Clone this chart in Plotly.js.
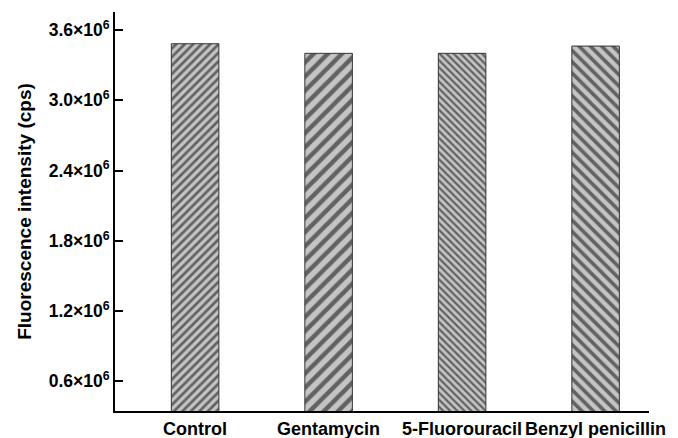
<!DOCTYPE html>
<html>
<head>
<meta charset="utf-8">
<script src="https://cdn.plot.ly/plotly-3.0.1.min.js"></script>
<style>html,body{margin:0;padding:0;background:#fff;}#chart{width:678px;height:438px;}</style>
</head>
<body>
<div id="chart"></div>
<script>
const categories = ["Control", "Gentamycin", "5-Fluorouracil", "Benzyl penicillin"];
const intensity = [3.483e6, 3.401e6, 3.401e6, 3.463e6];
const tickValues = [0.6e6, 1.2e6, 1.8e6, 2.4e6, 3.0e6, 3.6e6];
const tickLabels = ["0.6×10<sup>6</sup>", "1.2×10<sup>6</sup>", "1.8×10<sup>6</sup>", "2.4×10<sup>6</sup>", "3.0×10<sup>6</sup>", "3.6×10<sup>6</sup>"];
const patternShapes = ["/", "/", "\\", "\\"];
const patternSizes = [6, 10, 5, 8];

const fam = "Liberation Sans, Arial, sans-serif";

const trace = {
  type: "bar",
  x: categories,
  y: intensity,
  width: 0.356,
  marker: {
    color: "#c0c0c0",
    line: {color: "#333", width: 1},
    pattern: {shape: patternShapes, size: patternSizes, solidity: 0.45, fgcolor: "#000", bgcolor: "#c4c4c4", fillmode: "overlay"}
  },
  hoverinfo: "none"
};

const layout = {
  width: 678, height: 438,
  margin: {l: 115, r: 29, t: 12, b: 27},
  paper_bgcolor: "#fff", plot_bgcolor: "#fff",
  showlegend: false,
  font: {family: fam, color: "#000"},
  xaxis: {
    type: "category",
    range: [-0.6, 3.4],
    automargin: false,
    tickangle: 0,
    showline: true, linecolor: "#000", linewidth: 2,
    ticks: "", showgrid: false, zeroline: false,
    tickfont: {family: fam, size: 18, color: "#000", weight: "bold"}
  },
  yaxis: {
    range: [0.346e6, 3.754e6],
    automargin: false,
    showline: true, linecolor: "#000", linewidth: 2,
    ticks: "inside", ticklen: 8, tickwidth: 2, tickcolor: "#000",
    tickvals: tickValues, ticktext: tickLabels,
    showgrid: false, zeroline: false,
    tickfont: {family: fam, size: 17.5, color: "#000", weight: "bold"},
    title: {text: "Fluorescence intensity (cps)", font: {family: fam, size: 19, color: "#000", weight: "bold"}, standoff: 12}
  }
};

Plotly.newPlot("chart", [trace], layout, {displayModeBar: false, staticPlot: true});
</script>
</body>
</html>
